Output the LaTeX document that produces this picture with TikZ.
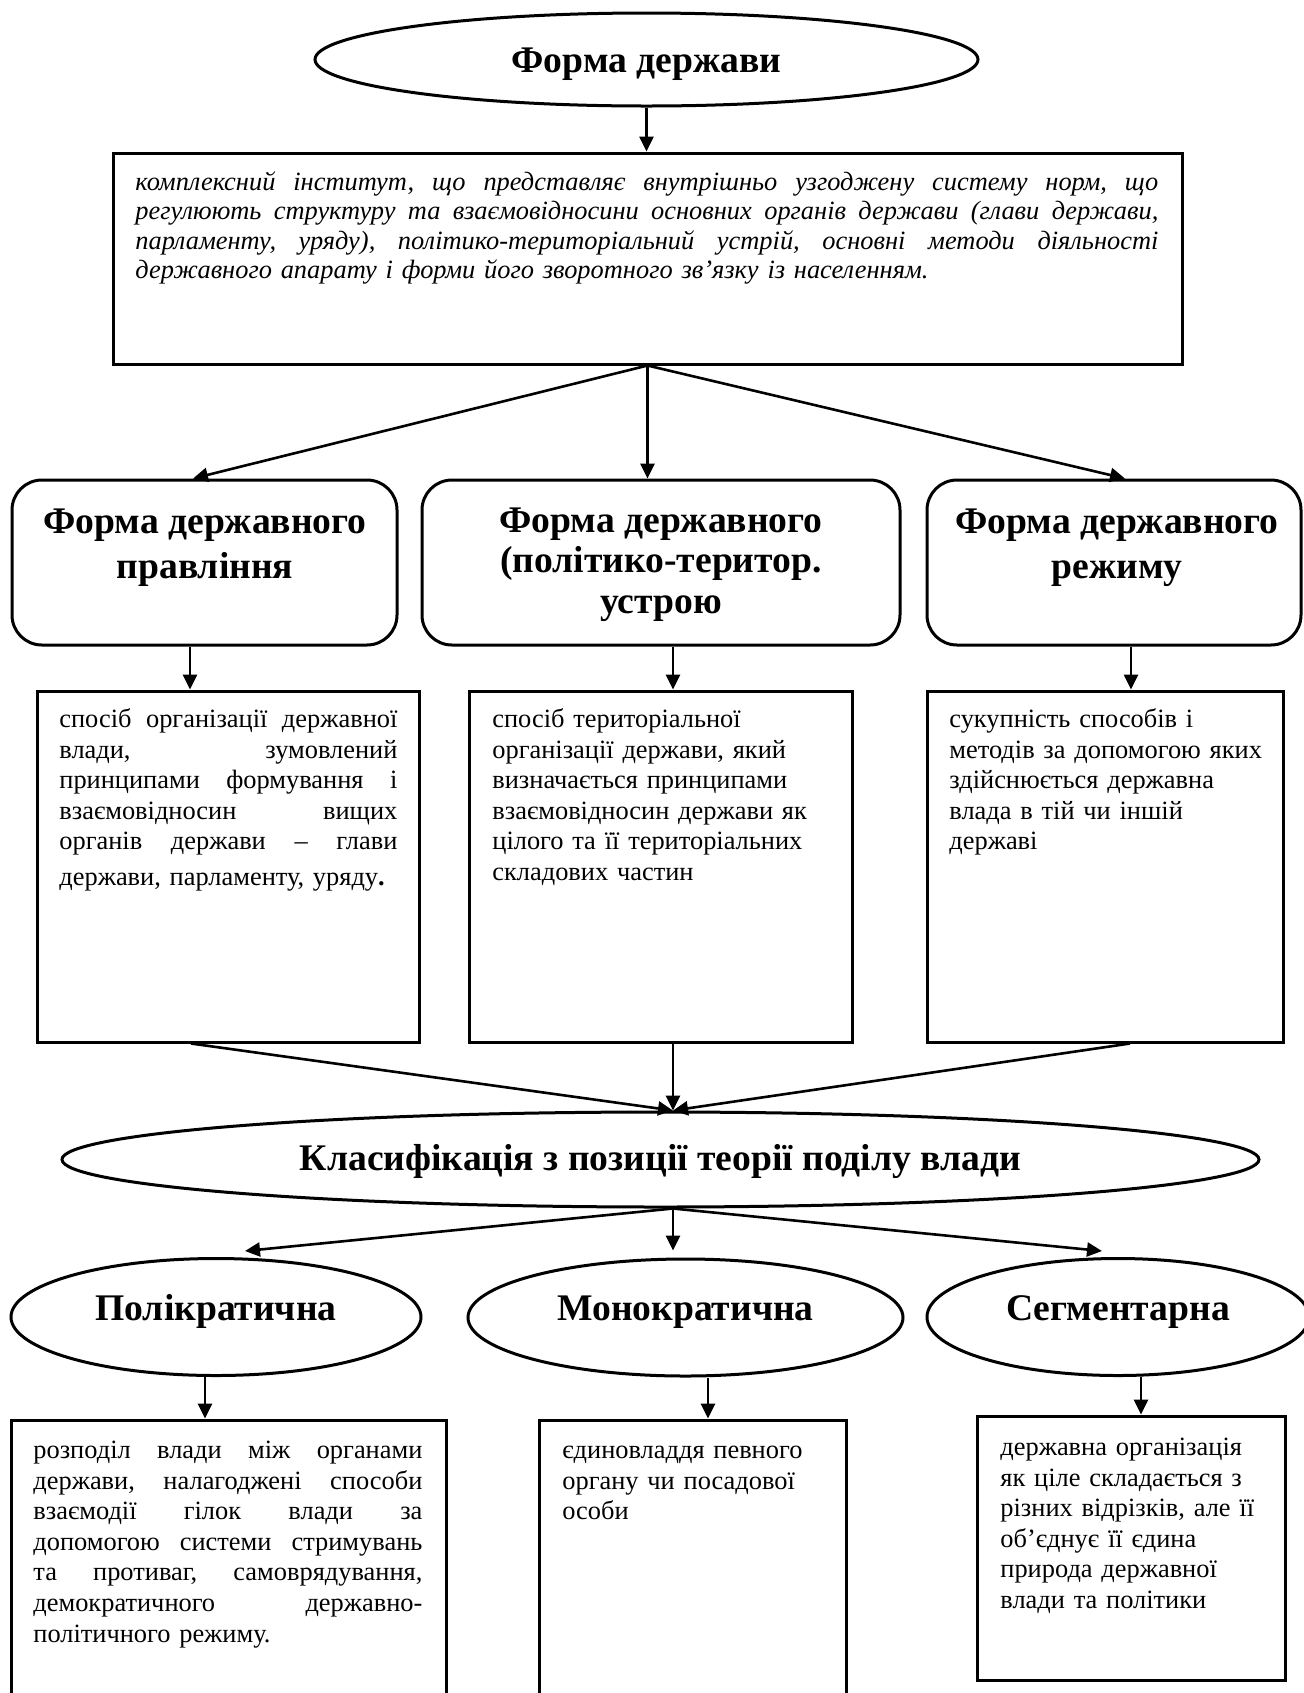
\documentclass[tikz,border=0pt]{standalone}
\usepackage{fontspec}
\setmainfont{Liberation Serif}
\usetikzlibrary{shapes.geometric,arrows.meta,calc}
\setlength{\parindent}{0pt}
\newcommand{\jl}[2]{\leavevmode\hbox to #1{\frenchspacing\spaceskip=\fontdimen2\font plus 1fil\relax #2}}
\begin{document}
\begin{tikzpicture}[x=0.5pt,y=-0.5pt,
  bx/.style={draw,line width=1.5pt,inner sep=0pt},
  rbx/.style={draw,line width=1.5pt,rounded corners=15pt,inner sep=0pt},
  ell/.style={draw,ellipse,line width=1.5pt,inner sep=0pt,font=\fontsize{18.8}{22}\selectfont\bfseries},
  arr/.style={line width=1.3pt,-{Triangle[length=7.5pt,width=7pt]}},
  body/.style={anchor=north west,inner sep=0pt,align=left,font=\fontsize{13.2}{15.3}\selectfont},
  ttl/.style={anchor=north,inner sep=0pt,align=center,font=\fontsize{18.8}{22.5}\selectfont\bfseries}
]
\useasboundingbox (0,0) rectangle (1303,1693);

% top
\node[ell,minimum width=331.5pt,minimum height=46.5pt,text height=12.5pt,text depth=0pt] (top) at (646.5,59.5) {Форма держави};
\node[bx,minimum width=534.5pt,minimum height=105.5pt] (def) at (647.5,258.5) {};
\node[anchor=north west,inner sep=0pt,text width=511.5pt,align=left,font=\fontsize{13.2}{14.75}\selectfont\itshape] (deftxt) at (135,169.4)
 {\strut\jl{511.5pt}{комплексний інститут, що представляє внутрішньо узгоджену систему норм, що}\\
  \jl{511.5pt}{регулюють структуру та взаємовідносини основних органів держави (глави держави,}\\
  \jl{511.5pt}{парламенту, уряду), політико-територіальний устрій, основні методи діяльності}\\
  державного апарату і форми його зворотного зв’язку із населенням.};

% rounded boxes
\node[rbx,minimum width=192.5pt,minimum height=82.5pt] (rb1) at (204.5,562.5) {};
\node[rbx,minimum width=239pt,minimum height=82.5pt] (rb2) at (661,562.5) {};
\node[rbx,minimum width=187pt,minimum height=82.5pt] (rb3) at (1114,562.5) {};
\node[ttl] (t1) at (205,501.5) {\strut Форма державного\\правління};
\node[ttl,font=\fontsize{18.8}{20.25}\selectfont\bfseries] (t2) at (661,503.7) {\strut Форма державного\\(політико-територ.\\устрою};
\node[ttl] (t3) at (1117,501.5) {\strut Форма державного\\режиму};

% text boxes row 1
\node[bx,minimum width=191pt,minimum height=175.5pt] (tb1) at (228,866.5) {};
\node[bx,minimum width=191.5pt,minimum height=175.5pt] (tb2) at (660.5,866.5) {};
\node[bx,minimum width=178pt,minimum height=175.5pt] (tb3) at (1105,866.5) {};
\node[body,text width=169pt] (x1) at (59,705.6)
 {\strut\jl{169pt}{спосіб організації державної}\\
  \jl{169pt}{влади, зумовлений}\\
  \jl{169pt}{принципами формування і}\\
  \jl{169pt}{взаємовідносин вищих}\\
  \jl{169pt}{органів держави – глави}\\[2.5pt]
  держави, парламенту, уряду\textbf{.}};
\node[body,text width=175pt] (x2) at (492,705.6)
 {\strut спосіб територіальної\\
  організації держави, який\\
  визначається принципами\\
  взаємовідносин держави як\\
  цілого та її територіальних\\
  складових частин};
\node[body,text width=160pt] (x3) at (949,705.6)
 {\strut сукупність способів і\\
  методів за допомогою яких\\
  здійснюється державна\\
  влада в тій чи іншій\\
  державі};

% classification
\node[ell,minimum width=598.5pt,minimum height=47.5pt,text height=10.5pt,text depth=0pt] (cls) at (660.5,1159.5) {Класифікація з позиції теорії поділу влади};

\node[ell,minimum width=205pt,minimum height=58.5pt,text height=3pt,text depth=0pt] (e1) at (216,1317) {Полікратична};
\node[ell,minimum width=217.5pt,minimum height=58.5pt,text height=3pt,text depth=0pt] (e2) at (685.5,1317.5) {Монократична};
\node[ell,minimum width=191pt,minimum height=58.5pt,text height=3pt,text depth=0pt] (e3) at (1118,1317) {Сегментарна};

% bottom boxes
\node[bx,minimum width=217.5pt,minimum height=150pt] (bb1) at (228.5,1570) {};
\node[bx,minimum width=153.5pt,minimum height=150pt] (bb2) at (692.5,1570) {};
\node[bx,minimum width=154pt,minimum height=132pt] (bb3) at (1131,1548) {};
\node[body,text width=194.5pt] (y1) at (33,1436.6)
 {\strut\jl{194.5pt}{розподіл влади між органами}\\
  \jl{194.5pt}{держави, налагоджені способи}\\
  \jl{194.5pt}{взаємодії гілок влади за}\\
  \jl{194.5pt}{допомогою системи стримувань}\\
  \jl{194.5pt}{та противаг, самоврядування,}\\
  \jl{194.5pt}{демократичного державно-}\\
  політичного режиму.};
\node[body,text width=140pt] (y2) at (562,1436.6)
 {\strut єдиновладдя певного\\
  органу чи посадової\\
  особи};
\node[body,text width=140pt] (y3) at (1000,1433.6)
 {\strut державна організація\\
  як ціле складається з\\
  різних відрізків, але її\\
  об’єднує її єдина\\
  природа державної\\
  влади та політики};

% arrows
\draw[arr] (top.south) -- (top.south |- def.north);
\draw[arr] (def.south) -- ($(rb1.north)+(-11.5,0)$);
\draw[arr] (def.south) -- (def.south |- rb2.north);
\draw[arr] (def.south) -- ($(rb3.north)+(11,0)$);

\draw[arr] ($(rb1.south)+(-14.5,0)$) coordinate (c1) -- (c1 |- tb1.north);
\draw[arr] ($(rb2.south)+(12,0)$) coordinate (c2) -- (c2 |- tb2.north);
\draw[arr] ($(rb3.south)+(17,0)$) coordinate (c3) -- (c3 |- tb3.north);

\draw[arr] ($(tb1.south)+(-37,0)$) -- ($(cls.north)+(12.5,0)$);
\draw[arr] ($(tb2.south)+(12.5,0)$) -- ($(cls.north)+(12.5,0)$);
\draw[arr] ($(tb3.south)+(25,0)$) -- ($(cls.north)+(12.5,0)$);

\draw[arr] ($(cls.south)+(12.5,0)$) -- ($(e1.north)+(29,-6)$);
\draw[arr] ($(cls.south)+(12.5,0)$) -- ($(e2.north)+(-12.5,-7)$);
\draw[arr] ($(cls.south)+(12.5,0)$) -- ($(e3.north)+(-16,-6)$);

\draw[arr] ($(e1.south)+(-11,0)$) coordinate (d1) -- (d1 |- bb1.north);
\draw[arr] ($(e2.south)+(22.5,0)$) coordinate (d2) -- (d2 |- bb2.north);
\draw[arr] ($(e3.south)+(23,0)$) coordinate (d3) -- (d3 |- bb3.north);
\end{tikzpicture}
\end{document}
